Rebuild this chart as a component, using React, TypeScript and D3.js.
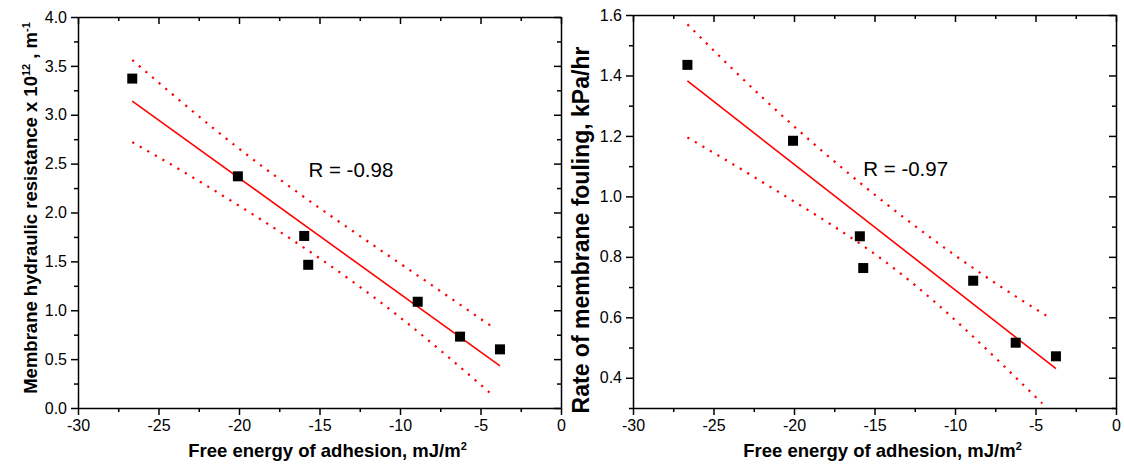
import React, { useEffect, useRef } from 'react';
import * as d3 from 'd3';

// ---- Left panel data ----
const energyA = [-26.63, -20.07, -15.95, -15.7, -8.9, -6.27, -3.79];
const resistance = [3.37, 2.37, 1.76, 1.465, 1.087, 0.73, 0.6];
const fitAX = [-26.63, -3.79];
const fitAY = [3.14, 0.43];
const upperAX = [-26.63, -21.58, -6.47, -4.14];
const upperAY = [3.56, 2.86, 1.08, 0.815];
const lowerAX = [-26.63, -22.41, -9.79, -4.14];
const lowerAY = [2.72, 2.314, 0.9, 0.116];
const yTicksA = [0, 0.5, 1, 1.5, 2, 2.5, 3, 3.5, 4];

// ---- Right panel data ----
const energyB = [-26.62, -20.06, -15.91, -15.7, -8.87, -6.23, -3.73];
const foulingRate = [1.435, 1.184, 0.868, 0.763, 0.721, 0.516, 0.471];
const fitBX = [-26.62, -3.73];
const fitBY = [1.382, 0.43];
const upperBX = [-26.62, -21.92, -7.83, -4.1];
const upperBY = [1.569, 1.325, 0.725, 0.598];
const lowerBX = [-26.62, -21.92, -13.43, -4.58];
const lowerBY = [1.195, 1.046, 0.747, 0.315];
const yTicksB = [0.4, 0.6, 0.8, 1.0, 1.2, 1.4, 1.6];

const xTicks = [-30, -25, -20, -15, -10, -5, 0];
const xMinor = [-27.5, -22.5, -17.5, -12.5, -7.5, -2.5];

const FONT = 'Arial, "Liberation Sans", sans-serif';

type Panel = {
  left: number; right: number; top: number; bottom: number;
  yDomain: [number, number]; yTicks: number[]; yMinor: number[];
  xs: number[]; ys: number[];
  fitX: number[]; fitY: number[];
  upX: number[]; upY: number[]; loX: number[]; loY: number[];
  rLabel: string; rX: number; rY: number;
  yTitle: 'A' | 'B'; yTitleX: number; yTitleY: number; yTitleSize: number;
};

const panels: Panel[] = [
  {
    left: 78, right: 561, top: 17, bottom: 408,
    yDomain: [0, 4], yTicks: yTicksA,
    yMinor: [0.25, 0.75, 1.25, 1.75, 2.25, 2.75, 3.25, 3.75],
    xs: energyA, ys: resistance, fitX: fitAX, fitY: fitAY,
    upX: upperAX, upY: upperAY, loX: lowerAX, loY: lowerAY,
    rLabel: 'R = -0.98', rX: -15.69, rY: 2.365,
    yTitle: 'A', yTitleX: 37, yTitleY: 208, yTitleSize: 18.5,
  },
  {
    left: 633, right: 1116, top: 15, bottom: 408,
    yDomain: [0.3, 1.6], yTicks: yTicksB,
    yMinor: [0.3, 0.5, 0.7, 0.9, 1.1, 1.3, 1.5],
    xs: energyB, ys: foulingRate, fitX: fitBX, fitY: fitBY,
    upX: upperBX, upY: upperBY, loX: lowerBX, loY: lowerBY,
    rLabel: 'R = -0.97', rX: -15.7, rY: 1.069,
    yTitle: 'B', yTitleX: 589, yTitleY: 230, yTitleSize: 23,
  },
];

export default function App() {
  const ref = useRef<SVGSVGElement>(null);

  useEffect(() => {
    const svg = d3.select(ref.current);
    svg.selectAll('*').remove();

    panels.forEach((p) => {
      const x = d3.scaleLinear().domain([-30, 0]).range([p.left, p.right]);
      const y = d3.scaleLinear().domain(p.yDomain).range([p.bottom, p.top]);
      const g = svg.append('g');

      const styleAxis = (sel: any) => {
        sel.select('.domain').attr('stroke', '#000').attr('stroke-width', 1.5);
        sel.selectAll('.tick line').attr('stroke', '#000').attr('stroke-width', 1.5);
        sel.selectAll('.tick text')
          .attr('font-family', FONT).attr('font-size', 16).attr('fill', '#000');
      };
      const none = () => '';

      // bottom
      const bottom = g.append('g').attr('transform', `translate(0,${p.bottom})`)
        .call(d3.axisBottom(x).tickValues(xTicks).tickSize(7).tickPadding(5)
          .tickFormat((d: any) => String(d)).tickSizeOuter(0));
      styleAxis(bottom);
      g.append('g').attr('transform', `translate(0,${p.bottom})`)
        .call(d3.axisBottom(x).tickValues(xMinor).tickSize(4).tickFormat(none).tickSizeOuter(0))
        .call(styleAxis).select('.domain').remove();

      // top (inward ticks)
      g.append('g').attr('transform', `translate(0,${p.top})`)
        .call(d3.axisBottom(x).tickValues(xTicks).tickSize(7).tickFormat(none).tickSizeOuter(0))
        .call(styleAxis);
      g.append('g').attr('transform', `translate(0,${p.top})`)
        .call(d3.axisBottom(x).tickValues(xMinor).tickSize(4).tickFormat(none).tickSizeOuter(0))
        .call(styleAxis).select('.domain').remove();

      // left
      const leftAx = g.append('g').attr('transform', `translate(${p.left},0)`)
        .call(d3.axisLeft(y).tickValues(p.yTicks).tickSize(7).tickPadding(4)
          .tickFormat((d: any) => (+d).toFixed(1)).tickSizeOuter(0));
      styleAxis(leftAx);
      g.append('g').attr('transform', `translate(${p.left},0)`)
        .call(d3.axisLeft(y).tickValues(p.yMinor).tickSize(4).tickFormat(none).tickSizeOuter(0))
        .call(styleAxis).select('.domain').remove();

      // right (inward ticks)
      g.append('g').attr('transform', `translate(${p.right},0)`)
        .call(d3.axisLeft(y).tickValues(p.yTicks).tickSize(7).tickFormat(none).tickSizeOuter(0))
        .call(styleAxis);
      g.append('g').attr('transform', `translate(${p.right},0)`)
        .call(d3.axisLeft(y).tickValues(p.yMinor).tickSize(4).tickFormat(none).tickSizeOuter(0))
        .call(styleAxis).select('.domain').remove();

      // confidence bands (dotted)
      const band = d3.line<[number, number]>()
        .x((d) => x(d[0])).y((d) => y(d[1])).curve(d3.curveMonotoneX);
      [[p.upX, p.upY], [p.loX, p.loY]].forEach(([bx, by]) => {
        g.append('path')
          .attr('d', band(bx.map((v, i) => [v, by[i]] as [number, number])))
          .attr('fill', 'none').attr('stroke', '#ff0000').attr('stroke-width', 2.2)
          .attr('stroke-dasharray', '2.2,6.5');
      });

      // fit line
      g.append('path')
        .attr('d', d3.line<[number, number]>().x((d) => x(d[0])).y((d) => y(d[1]))(
          p.fitX.map((v, i) => [v, p.fitY[i]] as [number, number])))
        .attr('fill', 'none').attr('stroke', '#ff0000').attr('stroke-width', 1.6);

      // markers
      g.selectAll('rect.pt').data(p.xs.map((v, i) => [v, p.ys[i]]))
        .enter().append('rect').attr('class', 'pt')
        .attr('x', (d) => x(d[0]) - 5).attr('y', (d) => y(d[1]) - 5)
        .attr('width', 10).attr('height', 10).attr('fill', '#000');

      // R label
      g.append('text').attr('x', x(p.rX)).attr('y', y(p.rY))
        .attr('font-family', FONT).attr('font-size', 20.5).attr('fill', '#000')
        .text(p.rLabel);

      // x title
      const xt = g.append('text')
        .attr('x', (p.left + p.right) / 2 + 8).attr('y', 457)
        .attr('text-anchor', 'middle').attr('font-family', FONT)
        .attr('font-weight', 'bold').attr('font-size', 18.5).attr('fill', '#000');
      xt.append('tspan').text('Free energy of adhesion, mJ/m');
      xt.append('tspan').attr('dy', -7).attr('font-size', 11).text('2');

      // y title
      const yt = g.append('text')
        .attr('transform', `translate(${p.yTitleX},${p.yTitleY}) rotate(-90)`)
        .attr('text-anchor', 'middle').attr('font-family', FONT)
        .attr('font-weight', 'bold').attr('font-size', p.yTitleSize).attr('fill', '#000');
      if (p.yTitle === 'A') {
        yt.append('tspan').text('Membrane hydraulic resistance x 10');
        yt.append('tspan').attr('dy', -7).attr('font-size', 11).text('12');
        yt.append('tspan').attr('dy', 7).text(' , m');
        yt.append('tspan').attr('dy', -7).attr('font-size', 11).text('-1');
      } else {
        yt.append('tspan').text('Rate of membrane fouling, kPa/hr');
      }
    });
  }, []);

  return (
    <svg ref={ref} width={1124} height={472}
      style={{ position: 'absolute', left: 0, top: 0, background: '#fff' }} />
  );
}
